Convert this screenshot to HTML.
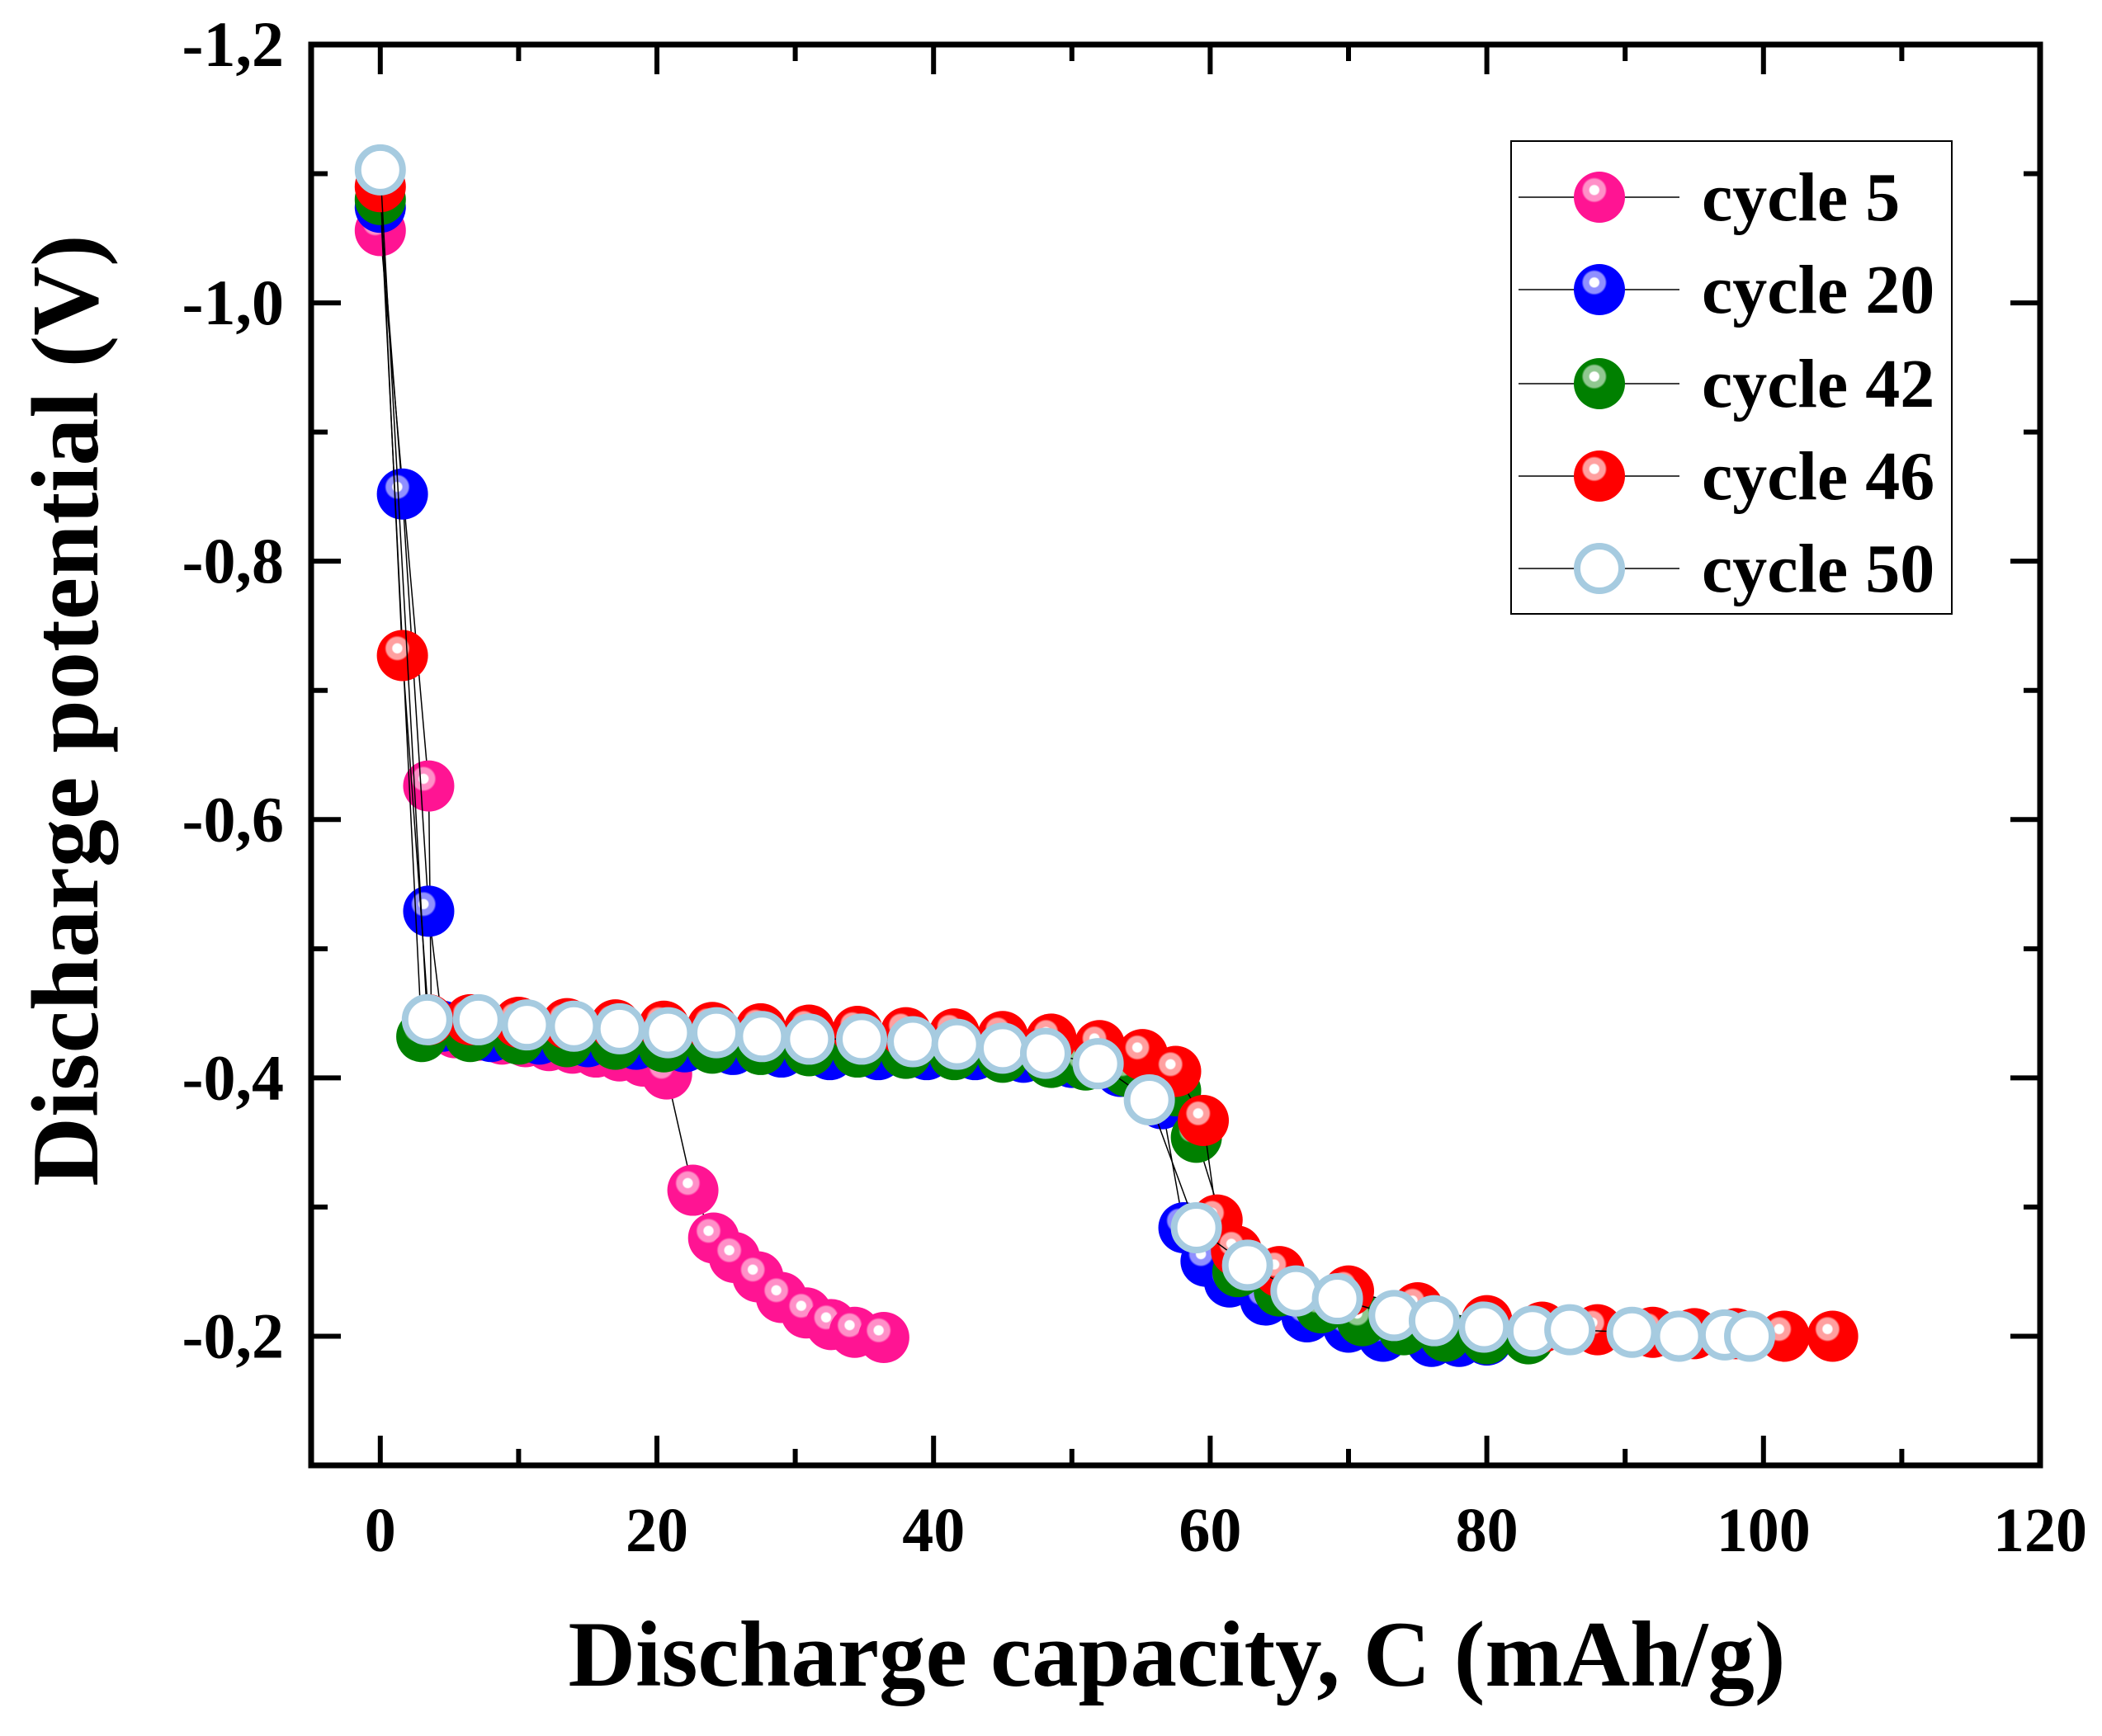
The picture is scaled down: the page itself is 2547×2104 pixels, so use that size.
<!DOCTYPE html>
<html><head><meta charset="utf-8"><style>
html,body{margin:0;padding:0;background:#fff}
svg{display:block}
text{font-family:"Liberation Serif",serif;font-weight:bold;fill:#000}
</style></head><body>
<svg id="chart" width="2547" height="2104" viewBox="0 0 2547 2104" xmlns="http://www.w3.org/2000/svg">
<defs id="defs"></defs>
<g id="marks"></g>
<g id="axes"></g>
<g id="legend"></g>
</svg>
<script>
const xTicks=[0,20,40,60,80,100,120];
const yTicks=[-1.2,-1.0,-0.8,-0.6,-0.4,-0.2];
const yTickLabels=["-1,2","-1,0","-0,8","-0,6","-0,4","-0,2"];
const seriesNames=["cycle 5","cycle 20","cycle 42","cycle 46","cycle 50"];
const c5x=[0,3.5,3.7,5.4,7.1,8.8,10.5,12.2,13.9,15.6,17.3,19,20.7,22.6,24.1,25.6,27.3,29,30.8,32.6,34.3,36.4];
const c5y=[-1.056,-0.626,-0.437,-0.435,-0.433,-0.43,-0.428,-0.425,-0.423,-0.42,-0.417,-0.413,-0.403,-0.313,-0.276,-0.261,-0.246,-0.23,-0.218,-0.209,-0.203,-0.199];
const c20x=[0,1.6,3.5,4.5,8,11.5,15,18.5,22,25.5,29,32.5,36,39.5,43,46.5,50,53.5,56.5,58.1,59.7,61.4,64,67,70,72.5,76,78,80];
const c20y=[-1.074,-0.852,-0.529,-0.44,-0.432,-0.43,-0.428,-0.426,-0.424,-0.422,-0.42,-0.418,-0.418,-0.418,-0.418,-0.416,-0.412,-0.405,-0.38,-0.284,-0.258,-0.242,-0.228,-0.215,-0.207,-0.2,-0.196,-0.196,-0.197];
const c42x=[0,3,6.5,10,13.5,17,20.5,24,27.5,31,34.5,38,41.5,45,48.5,51,54,57.5,59,62,65,68,71,74,77,80,83];
const c42y=[-1.08,-0.432,-0.432,-0.43,-0.428,-0.426,-0.424,-0.423,-0.422,-0.421,-0.42,-0.419,-0.418,-0.416,-0.412,-0.41,-0.405,-0.39,-0.354,-0.25,-0.235,-0.222,-0.212,-0.205,-0.2,-0.198,-0.198];
const c46x=[0,1.6,3.5,6.5,10,13.5,17,20.5,24,27.5,31,34.5,38,41.5,45,48.5,52,55.1,57.5,59.5,60.5,61.9,65,70,75,80,84,88,92,95,98,101.5,105];
const c46y=[-1.09,-0.727,-0.445,-0.445,-0.443,-0.442,-0.441,-0.44,-0.439,-0.438,-0.437,-0.436,-0.435,-0.434,-0.432,-0.43,-0.425,-0.418,-0.405,-0.367,-0.29,-0.266,-0.25,-0.235,-0.222,-0.212,-0.207,-0.205,-0.203,-0.202,-0.202,-0.2,-0.2];
const c50x=[0,3.4,7.1,10.6,14,17.3,20.8,24.3,27.6,31,34.8,38.5,41.7,45,48.1,51.9,55.6,59,62.7,66.2,69.2,73.3,76.2,79.8,83.3,86,90.5,93.9,97.2,99];
const c50y=[-1.103,-0.445,-0.445,-0.441,-0.44,-0.438,-0.435,-0.435,-0.432,-0.43,-0.43,-0.428,-0.426,-0.423,-0.419,-0.411,-0.383,-0.284,-0.255,-0.235,-0.229,-0.216,-0.212,-0.207,-0.204,-0.205,-0.203,-0.2,-0.201,-0.2];

const L=377,R=2472,T=54,B=1776;
const X=v=>L+(v+5)/125*(R-L);
const Y=v=>T+(v+1.2)/1.1*(B-T);
const NS="http://www.w3.org/2000/svg";
function mk(tag,attrs,parent){const e=document.createElementNS(NS,tag);for(const k in attrs)e.setAttribute(k,attrs[k]);parent.appendChild(e);return e;}
const defs=document.getElementById('defs'),marks=document.getElementById('marks'),axes=document.getElementById('axes'),legend=document.getElementById('legend');
const colors=[["#ff1493","#ff90c8"],["#0000ff","#9090ff"],["#008000","#90c890"],["#ff0000","#ffa0a0"]];
colors.forEach((c,i)=>{const g=mk('radialGradient',{id:'g'+i,cx:'0.4',cy:'0.36',r:'0.62'},defs);
mk('stop',{offset:'0',"stop-color":'#fff'},g);mk('stop',{offset:'0.14',"stop-color":'#fff'},g);
mk('stop',{offset:'0.18',"stop-color":c[1]},g);mk('stop',{offset:'0.34',"stop-color":c[1]},g);
mk('stop',{offset:'0.4',"stop-color":c[0]},g);mk('stop',{offset:'1',"stop-color":c[0]},g);});
const allX=[c5x,c20x,c42x,c46x,c50x],allY=[c5y,c20y,c42y,c46y,c50y];
const r=31;
allX.forEach((xs,si)=>{const ys=allY[si];
 const grp=mk('g',{},marks);
 
 
 const pl=mk('polyline',{points:xs.map((x,i)=>X(x)+','+Y(ys[i])).join(' '),fill:'none',stroke:'#000','stroke-width':1.5},grp);
 
 
 xs.forEach((x,i)=>{let c;
  if(si<4)c=mk('circle',{cx:X(x),cy:Y(ys[i]),r:r,fill:'url(#g'+si+')'},grp);
  else c=mk('circle',{cx:X(x),cy:Y(ys[i]),r:r-4,fill:'#fff',stroke:'#a6cbe0','stroke-width':8},grp);
  
  });
});
const fr=mk('rect',{x:L,y:T,width:R-L,height:B-T,fill:'none',stroke:'#000','stroke-width':7},axes);


for(let v=0;v<=120;v+=10){const maj=v%20===0,len=maj?36:20,x=X(v);
 mk('line',{x1:x,y1:B,x2:x,y2:B-len,stroke:'#000','stroke-width':6},axes);
 mk('line',{x1:x,y1:T,x2:x,y2:T+len,stroke:'#000','stroke-width':6},axes);}
for(let k=0;k<=10;k++){const v=-1.2+k*0.1,maj=k%2===0,len=maj?36:20,y=Y(v);
 mk('line',{x1:L,y1:y,x2:L+len,y2:y,stroke:'#000','stroke-width':6},axes);
 mk('line',{x1:R,y1:y,x2:R-len,y2:y,stroke:'#000','stroke-width':6},axes);}
xTicks.forEach(v=>{const t=mk('text',{x:X(v),y:1880,'text-anchor':'middle','font-size':76},axes);t.textContent=v;
 
 });
yTicks.forEach((v,i)=>{const t=mk('text',{x:344,y:Y(v)+26,'text-anchor':'end','font-size':78},axes);t.textContent=yTickLabels[i];
 
 });
const xt=mk('text',{x:1426,y:2043,'text-anchor':'middle','font-size':113},axes);xt.textContent='Discharge capacity, C (mAh/g)';


const yt=mk('text',{x:0,y:0,'text-anchor':'middle','font-size':116,transform:'translate(118,861) rotate(-90)'},axes);yt.textContent='Discharge potential (V)';


const lb=mk('rect',{x:1831,y:171,width:534,height:573,fill:'#fff',stroke:'#000','stroke-width':2},legend);


const ly=[239,351,465,577,689];
seriesNames.forEach((n,i)=>{const g=mk('g',{},legend);
 
 
 mk('line',{x1:1840,y1:ly[i],x2:2035,y2:ly[i],stroke:'#000','stroke-width':1.5},g);
 if(i<4)mk('circle',{cx:1938,cy:ly[i],r:r,fill:'url(#g'+i+')'},g);
 else mk('circle',{cx:1938,cy:ly[i],r:r-4,fill:'#fff',stroke:'#a6cbe0','stroke-width':8},g);
 const t=mk('text',{x:2062,y:ly[i]+28,'font-size':84},g);t.textContent=n;});
</script>
</body></html>
